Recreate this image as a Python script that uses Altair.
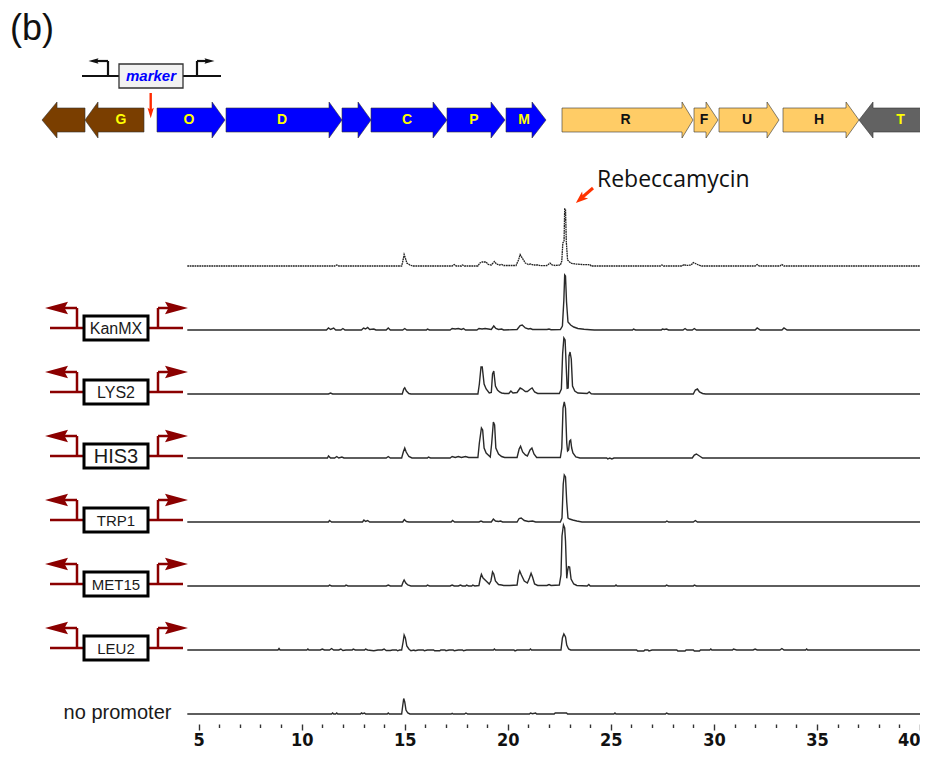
import altair as alt
import pandas as pd

# ---------------- chromatogram data: (retention time [min], signal) ----------------
trace_names = ["reference", "KanMX", "LYS2", "HIS3", "TRP1", "MET15", "LEU2", "no promoter"]

trace_ref = [(4.45,0),(11.6,0),(11.7,1),(11.8,0),
    (14.85,0),(14.92,6),(14.97,11.5),(15.03,8),(15.1,3),(15.25,1),(15.4,0),
    (17.3,0),(17.4,1.5),(17.5,0),(17.75,0),(17.8,1),(17.9,0),
    (18.55,0),(18.65,3),(18.75,4),(18.95,4),(19.05,1.5),(19.2,1),(19.35,4.5),(19.45,2),(19.6,1),(19.7,1.5),(19.8,0.5),
    (20.4,0.5),(20.52,6),(20.6,11.5),(20.7,8),(20.85,3),(21.0,1.5),(21.1,2),(21.25,1),(21.45,1),(21.6,0.3),
    (21.9,0.5),(22.05,3),(22.15,1),(22.3,0.5),(22.55,1),
    (22.62,5),(22.67,23),(22.73,25),(22.76,57),(22.8,57),(22.84,24),(22.9,6),(23.0,4),(23.1,2.5),(23.3,2),(23.6,1.5),(24.0,1.2),(24.05,0),
    (27.4,0),(27.48,1),(27.55,0),(28.45,0),(28.55,1.5),(28.65,0.5),(28.9,1),(29.0,3.5),(29.1,2.5),(29.25,1),(29.4,0),
    (32.0,0),(32.1,1.5),(32.2,0),(33.2,0),(33.3,1.5),(33.4,0),(40,0)]

trace_kanmx = [(4.45,0),(11.2,0),(11.3,2),(11.4,0.5),(11.55,2),(11.65,0),(11.9,0),(12.0,1.5),(12.1,0),
    (12.9,0),(13.0,2),(13.1,1),(13.2,2.5),(13.3,0.5),(13.5,1),(13.6,0),
    (14.1,0),(14.2,2),(14.3,0),(14.9,0),(15.0,1.5),(15.1,0),(16.05,0),(16.1,1),(16.2,0),
    (17.2,0),(17.3,1.5),(17.45,1),(17.6,1.5),(17.75,0.5),(17.85,1.5),(17.95,0),
    (18.5,0),(18.6,1.5),(18.75,1),(18.9,1.5),(19.05,1),(19.2,0.5),(19.32,4),(19.42,1.5),(19.55,0.5),(19.7,1),(19.8,0),
    (20.45,0.5),(20.6,4.5),(20.7,5),(20.85,2),(21.0,1),(21.1,1.5),(21.2,0.5),(21.9,0.5),(22.0,1),(22.1,0.3),(22.55,0.5),
    (22.65,4),(22.72,30),(22.76,55),(22.8,54),(22.85,28),(22.92,8),(23.05,5),(23.2,3),(23.4,1.5),(23.7,0.8),(24.0,0.3),(24.2,0),
    (26.05,0),(26.1,1),(26.2,0),(27.45,0),(27.5,1),(27.6,0.5),(27.7,1),(27.8,0),(28.5,0),(28.6,1.5),(28.7,0),
    (28.95,0),(29.05,1.5),(29.15,0),(32.0,0),(32.1,2),(32.25,0),(33.3,0),(33.4,2),(33.55,0),(40,0)]

trace_lys2 = [(4.45,0),(11.3,0),(11.4,1),(11.5,0),(14.88,0),(14.95,5),(15.0,6.3),(15.08,3),(15.2,0.5),(15.3,0),
    (18.55,0),(18.62,10),(18.7,27),(18.76,27),(18.85,10),(18.95,5),(19.1,1),(19.2,1.5),(19.26,20),(19.32,23),
    (19.4,8),(19.5,4),(19.6,2),(19.7,1),(19.85,0.5),
    (20.05,0.5),(20.15,3),(20.25,1),(20.45,1.5),(20.6,6),(20.7,5),(20.85,2.5),(20.95,2.5),(21.1,5),(21.18,6),(21.3,2),(21.45,0.5),(22.5,0.5),
    (22.6,5),(22.66,40),(22.72,56),(22.78,54),(22.85,20),(22.88,5.7),(22.93,6),(22.97,38),(23.02,42),(23.08,35),(23.14,8),
    (23.25,3),(23.4,1),(23.85,0.5),(23.95,2),(24.05,0.3),(24.2,0),
    (29.0,0),(29.1,4),(29.2,5),(29.3,2),(29.45,0.5),(29.6,0),(40,0)]

trace_his3 = [(4.45,0),(11.25,0),(11.3,2),(11.4,0),(11.6,0),(11.7,1.5),(11.8,0),(11.95,1),(12.05,0),(14.1,0),(14.2,1.5),(14.3,0),
    (14.85,0),(14.93,6),(15.0,10),(15.07,6),(15.2,1.5),(15.35,0),(16.1,0),(16.15,1),(16.25,0),
    (17.2,0),(17.3,1.5),(17.45,0.5),(17.6,1.5),(17.75,0.5),(17.95,1.5),(18.1,0.5),
    (18.55,0.5),(18.62,15),(18.72,30),(18.78,28),(18.85,10),(18.95,5),(19.05,3),(19.15,1),(19.22,15),(19.3,36),(19.36,33),
    (19.42,10),(19.55,4),(19.7,1.5),(19.85,0.5),
    (20.45,0.5),(20.55,9),(20.62,11.7),(20.72,6),(20.85,3),(20.95,2),(21.08,8),(21.17,10),(21.27,4),(21.4,0.5),(22.55,0.5),
    (22.62,10),(22.68,50),(22.74,56),(22.8,50),(22.86,15),(22.9,7),(22.95,8),(23.0,17),(23.05,18),(23.1,10),(23.16,5),(23.3,1),(23.5,0),
    (24.8,0),(24.85,-1),(24.95,0),(25.05,-1),(25.15,0),(28.95,0),(29.05,3),(29.15,4),(29.3,2),(29.45,0),(40,0)]

trace_trp1 = [(4.45,0),(11.3,0),(11.35,1.5),(11.45,0),(12.95,0),(13.02,2),(13.1,0.5),(13.2,1.5),(13.3,0),
    (14.9,0),(14.98,2.5),(15.08,0.5),(15.2,0),
    (17.25,0),(17.32,1.5),(17.42,0),(18.6,0),(18.7,1),(18.8,0),(19.2,0),(19.3,3),(19.4,1),(19.55,0.5),(19.65,1),(19.75,0),
    (20.45,0),(20.55,3.5),(20.65,4),(20.8,1.5),(21.0,0.5),(21.2,1),(21.35,0),(22.55,0),
    (22.63,4),(22.69,38),(22.74,47),(22.8,45),(22.86,20),(22.92,4),(23.0,3),(23.15,2),(23.35,1),(23.6,0),
    (27.65,0),(27.72,1),(27.8,0),(29.0,0),(29.1,1.5),(29.2,0),(40,0)]

trace_met15 = [(4.45,0),(11.3,0),(11.35,1),(11.45,0),(12.1,0),(12.15,1),(12.25,0),(14.1,0),(14.2,1),(14.3,0),
    (14.85,0),(14.92,4),(14.97,6),(15.05,3),(15.15,1),(15.3,0),(16.05,0),(16.1,1),(16.2,0),
    (17.2,0),(17.3,1),(17.4,0),(17.6,0),(17.7,1),(17.8,0),(17.95,0),(18.0,1),(18.1,0),(18.25,0),(18.3,1),(18.4,0),
    (18.6,0.5),(18.67,8),(18.72,11.7),(18.8,8),(18.95,5),(19.1,2),(19.18,5),(19.26,14),(19.32,12),(19.4,5),(19.55,1.5),
    (19.7,1),(19.8,0.5),(20.1,0.5),
    (20.45,1),(20.52,11),(20.58,15),(20.66,11),(20.8,5),(20.95,3),(21.05,8),(21.13,12.7),(21.2,9),(21.3,2),(21.45,0.5),
    (21.9,0.5),(22.0,1.5),(22.1,0.5),(22.5,1),(22.58,11),(22.63,50),(22.7,61),(22.76,58),(22.8,45),(22.86,7.7),
    (22.9,15),(22.94,19.3),(23.0,19),(23.07,7),(23.2,2),(23.35,0.5),
    (23.85,0),(23.93,1.5),(24.0,0),(25.2,0),(25.25,1),(25.3,0),(27.65,0),(27.7,1),(27.8,0),(29.0,0),(29.05,1),(29.15,0),(40,0)]

trace_leu2 = [(4.45,0),(8.85,0),(8.9,1.5),(8.95,0),(10.25,0),(10.3,1),(10.35,0),(10.9,0),(11.0,1),(11.1,0),
    (11.35,0),(11.45,1.5),(11.55,0),(11.8,0),(11.9,1),(12.0,-0.5),(12.15,0),(12.45,0),(12.5,1),(12.6,0),
    (13.05,0),(13.1,1),(13.2,0),(13.5,-0.8),(13.7,0),(13.9,0),(14.0,1),(14.1,-0.5),(14.3,-0.5),(14.4,0),
    (14.6,0),(14.65,-0.8),(14.75,0),
    (14.85,0),(14.92,8),(14.97,15),(15.03,12),(15.1,4),(15.2,1),(15.3,-0.8),(15.45,0),(15.5,-0.8),(15.65,0),
    (15.9,0),(15.95,-0.8),(16.1,0),(16.4,0),(16.45,-0.8),(16.7,-0.8),(16.75,0),(16.95,0),(17.0,-0.8),(17.15,0),
    (17.35,0),(17.4,-0.8),(17.6,0),(17.8,0),(17.85,-0.8),(18.0,0),
    (19.3,0),(19.35,1),(19.4,0),(20.3,0),(20.35,-1),(20.45,0),(21.05,0),(21.1,1),(21.15,0),
    (22.58,0),(22.65,12),(22.72,16),(22.8,13),(22.86,5),(22.95,1),(23.05,0),
    (26.25,0),(26.3,-1),(26.6,-1),(26.65,0),(26.8,0),(26.85,-1),(27.0,0),(28.2,0),(28.25,-1),(28.6,-1),(28.65,0),
    (29.0,0),(29.05,-1),(29.3,-1),(29.35,0),
    (29.8,0),(29.85,1),(29.9,0),(30.9,0),(30.95,1),(31.1,0),(31.9,0),(32.0,1),(32.1,0),(33.2,0),(33.3,1.5),(33.4,0),
    (34.45,0),(34.5,1),(34.55,0),(40,0)]

trace_none = [(4.45,0),(11.45,0),(11.5,1),(11.55,0),(11.65,0),(11.7,1),(11.75,0),(12.85,0),(12.9,1),(12.95,0.3),
    (13.05,1),(13.1,0),(14.15,0),(14.2,1),(14.25,0),
    (14.85,0),(14.9,8),(14.95,15.5),(15.0,12),(15.06,4),(15.15,1),(15.25,0),(17.25,0),(17.3,0.7),(17.35,0),
    (17.9,0),(17.97,1),(18.05,0),
    (21.05,0),(21.1,1),(21.2,0.3),(21.35,1),(21.4,0),(22.25,0),(22.3,1),(22.85,1),(22.9,0),(25.15,0),(25.2,1),
    (25.25,0),(27.65,0),(27.7,1),(27.8,0),(40,0)]

traces = [trace_ref, trace_kanmx, trace_lys2, trace_his3, trace_trp1, trace_met15, trace_leu2, trace_none]

tick_values = list(range(5, 41))

# ---------------- gene cluster (schematic positions along the cluster) ----------------
gene_labels = ["", "G", "O", "D", "", "C", "P", "M", "R", "F", "U", "H", "T"]
gene_tail = [85, 144, 157, 226, 342, 371, 447, 506, 562, 694, 719, 783, 928]
gene_head = [57, 98, 212, 329, 358, 433, 491, 532, 682, 706, 767, 846, 873]
gene_tip = [42, 85, 225, 342, 371, 447, 505, 546, 693, 718, 779, 859, 859]
gene_fill = ["#7A3E00", "#7A3E00", "#0000FF", "#0000FF", "#0000FF", "#0000FF", "#0000FF", "#0000FF",
             "#FFCC66", "#FFCC66", "#FFCC66", "#FFCC66", "#626262"]
gene_text = ["#FFFF00"] * 8 + ["#111111"] * 4 + ["#FFFF00"]

promoter_labels = ["KanMX", "LYS2", "HIS3", "TRP1", "MET15", "LEU2"]
promoter_label_size = [16, 16, 20, 15, 15, 15]

# ---------------- layout ----------------
W, H = 912, 714
X_DOM = [-4.25, 40.0]
SHIFT = 4
EPS = 0.002


def fx(px):
    return X_DOM[0] + (px - 8) * (X_DOM[1] - X_DOM[0]) / W


def fy(py):
    return (H + 8 + SHIFT) - py


BASE0, STEP = 270, 64
DARKRED = "#8B0000"
SANS = "Liberation Sans, Arial, Helvetica, sans-serif"

xaxis = alt.Axis(
    values=tick_values,
    labelExpr="datum.value % 5 === 0 ? datum.label : ''",
    tickSize={"condition": {"test": "datum.value % 5 === 0", "value": 6}, "value": 3.5},
    tickWidth=1.4, tickColor="#333333", domain=False, grid=False,
    labelFont="Liberation Sans Narrow, DejaVu Sans Condensed, Arial Narrow, sans-serif",
    labelFontSize=18, labelFontWeight="bold", labelColor="#111111",
    labelPadding=1, offset=2, title="", labelOverlap=False, labelAngle=0, labelFlush=True,
)
X = alt.X("x:Q", scale=alt.Scale(domain=X_DOM, nice=False, zero=False), axis=xaxis)
Y = alt.Y("y:Q", scale=alt.Scale(domain=[0, H], nice=False, zero=False), axis=None)
X2 = alt.X2("x2:Q")
Y2 = alt.Y2("y2:Q")

# ---------------- chromatogram traces ----------------
rows = []
for i, (name, pts) in enumerate(zip(trace_names, traces)):
    base = fy(BASE0 + STEP * i)
    for k, (t, h) in enumerate(pts):
        rows.append({"x": t, "y": base + h, "series": name, "idx": k})
tr = pd.DataFrame(rows)

lines_main = alt.Chart(tr[tr.series != "reference"]).mark_line(
    color="#2a2a2a", strokeWidth=1.4, interpolate="linear"
).encode(x=X, y=Y, detail="series:N", order="idx:Q")
lines_top = alt.Chart(tr[tr.series == "reference"]).mark_line(
    color="#222222", strokeWidth=1.3, strokeDash=[1.8, 0.6], interpolate="linear"
).encode(x=X, y=Y, detail="series:N", order="idx:Q")

# ---------------- gene arrows ----------------
cv = fy(124)
BH, HH = 12, 18
poly = []
glab = []
for g in range(len(gene_labels)):
    tail, head, tip = gene_tail[g], gene_head[g], gene_tip[g]
    if tip > tail:
        pts = [(fx(tail), cv - BH, cv + BH), (fx(head), cv - BH, cv + BH),
               (fx(head) + EPS, cv - HH, cv + HH), (fx(tip), cv, cv)]
        lx = (tail + tip) / 2 - 2
    else:
        pts = [(fx(tip), cv, cv), (fx(head), cv - HH, cv + HH),
               (fx(head) + EPS, cv - BH, cv + BH), (fx(tail), cv - BH, cv + BH)]
        lx = (tail + head) / 2
    for k, (xx, lo, hi) in enumerate(pts):
        poly.append({"x": xx, "y": lo, "y2": hi, "gene": f"g{g:02d}", "fill": gene_fill[g]})
    if gene_labels[g]:
        glab.append({"x": fx(lx), "y": cv, "label": gene_labels[g], "tc": gene_text[g]})
poly = pd.DataFrame(poly)
glab = pd.DataFrame(glab)

genes = alt.Chart(poly).mark_area(
    orient="vertical", stroke="#333333", strokeWidth=0.6, opacity=1, interpolate="linear"
).encode(x=X, y=Y, y2=Y2, color=alt.Color("fill:N", scale=None), detail="gene:N")
gene_txt = alt.Chart(glab).mark_text(
    font=SANS, fontSize=14, fontWeight="bold", baseline="middle", align="center"
).encode(x=X, y=Y, text="label:N", color=alt.Color("tc:N", scale=None))

# ---------------- marker insertion schematic ----------------
blk = pd.DataFrame([
    {"x": fx(82), "x2": fx(221), "y": fy(80), "y2": fy(80)},
    {"x": fx(108), "x2": fx(108), "y": fy(80), "y2": fy(65)},
    {"x": fx(108), "x2": fx(97), "y": fy(65), "y2": fy(65)},
    {"x": fx(197), "x2": fx(197), "y": fy(80), "y2": fy(65)},
    {"x": fx(197), "x2": fx(206), "y": fy(65), "y2": fy(65)},
])
blk_rules = alt.Chart(blk).mark_rule(color="#111111", strokeWidth=2.2).encode(x=X, x2=X2, y=Y, y2=Y2)

L_HEAD = "M -1 0 L 1 -0.55 L 0.7 0 L 1 0.55 Z"
R_HEAD = "M 1 0 L -1 -0.55 L -0.7 0 L -1 0.55 Z"
D_HEAD = "M 0 1 L -0.6 -1 L 0 -0.6 L 0.6 -1 Z"
U_HEAD = "M 0 -1 L 0.75 1 L 0 0.5 L -0.75 1 Z"

blk_l = alt.Chart(pd.DataFrame([{"x": fx(93.5), "y": fy(65)}])).mark_point(
    shape=L_HEAD, filled=True, color="#111111", size=100, opacity=1, strokeWidth=0
).encode(x=X, y=Y)
blk_r = alt.Chart(pd.DataFrame([{"x": fx(209.5), "y": fy(65)}])).mark_point(
    shape=R_HEAD, filled=True, color="#111111", size=100, opacity=1, strokeWidth=0
).encode(x=X, y=Y)

mbox = alt.Chart(pd.DataFrame([{"x": fx(119), "x2": fx(183), "y": fy(92), "y2": fy(68)}])).mark_rect(
    fill="#F2F2F2", stroke="#333333", strokeWidth=1.3
).encode(x=X, x2=X2, y=Y, y2=Y2)
mtxt = alt.Chart(pd.DataFrame([{"x": fx(151), "y": fy(80), "label": "marker"}])).mark_text(
    font=SANS, fontSize=15, fontWeight="bold", fontStyle="italic", color="#0000FF", baseline="middle"
).encode(x=X, y=Y, text="label:N")

red_rule = alt.Chart(pd.DataFrame([{"x": fx(150.7), "x2": fx(150.7), "y": fy(97), "y2": fy(114)}])).mark_rule(
    color="#FF2A00", strokeWidth=2.4
).encode(x=X, x2=X2, y=Y, y2=Y2)
red_head = alt.Chart(pd.DataFrame([{"x": fx(150.7), "y": fy(117)}])).mark_point(
    shape=D_HEAD, filled=True, color="#FF2A00", size=110, opacity=1, strokeWidth=0
).encode(x=X, y=Y)

# ---------------- promoter schematics left of the traces ----------------
segs, lheads, rheads, boxes, btxt = [], [], [], [], []
for j, lab in enumerate(promoter_labels):
    i = j + 1
    cy = BASE0 + STEP * i - 2
    for (a, b, c, d) in [(50, cy, 183, cy), (77, cy, 77, cy - 20), (77, cy - 20, 63, cy - 20),
                         (158, cy, 158, cy - 20), (158, cy - 20, 170, cy - 20)]:
        segs.append({"x": fx(a), "y": fy(b), "x2": fx(c), "y2": fy(d)})
    lheads.append({"x": fx(56.5), "y": fy(cy - 20)})
    rheads.append({"x": fx(176.5), "y": fy(cy - 20)})
    boxes.append({"x": fx(84), "x2": fx(148), "y": fy(cy + 12), "y2": fy(cy - 12)})
    btxt.append({"x": fx(116), "y": fy(cy + 0.5), "label": lab, "fs": promoter_label_size[j]})

p_rules = alt.Chart(pd.DataFrame(segs)).mark_rule(color=DARKRED, strokeWidth=2.5).encode(x=X, x2=X2, y=Y, y2=Y2)
p_l = alt.Chart(pd.DataFrame(lheads)).mark_point(
    shape=L_HEAD, filled=True, color=DARKRED, size=529, opacity=1, strokeWidth=0
).encode(x=X, y=Y)
p_r = alt.Chart(pd.DataFrame(rheads)).mark_point(
    shape=R_HEAD, filled=True, color=DARKRED, size=529, opacity=1, strokeWidth=0
).encode(x=X, y=Y)
p_box = alt.Chart(pd.DataFrame(boxes)).mark_rect(
    fill="white", stroke="#000000", strokeWidth=3
).encode(x=X, x2=X2, y=Y, y2=Y2)
p_txt = alt.Chart(pd.DataFrame(btxt)).mark_text(
    font=SANS, color="#1a1a1a", baseline="middle", align="center"
).encode(x=X, y=Y, text="label:N", size=alt.Size("fs:Q", scale=None))

nop = alt.Chart(pd.DataFrame([{"x": fx(117.5), "y": fy(717), "label": "no promoter"}])).mark_text(
    font=SANS, fontSize=20, color="#1a1a1a", baseline="middle", align="center"
).encode(x=X, y=Y, text="label:N")

# ---------------- annotation ----------------
reb_txt = alt.Chart(pd.DataFrame([{"x": fx(597), "y": fy(184), "label": "Rebeccamycin"}])).mark_text(
    font="Open Sans, Noto Sans, sans-serif", fontSize=23, color="#111111", baseline="middle", align="left"
).encode(x=X, y=Y, text="label:N")
reb_rule = alt.Chart(pd.DataFrame([{"x": fx(593), "x2": fx(582), "y": fy(192), "y2": fy(201.5)}])).mark_rule(
    color="#FF3300", strokeWidth=3
).encode(x=X, x2=X2, y=Y, y2=Y2)
reb_head = alt.Chart(pd.DataFrame([{"x": fx(580.5), "y": fy(203)}])).mark_point(
    shape=U_HEAD, filled=True, color="#FF3300", size=150, angle=229, opacity=1, strokeWidth=0
).encode(x=X, y=Y)

panel = alt.Chart(pd.DataFrame([{"x": fx(10), "y": fy(44), "label": "(b)"}])).mark_text(
    font=SANS, fontSize=36, color="#111111", baseline="alphabetic", align="left"
).encode(x=X, y=Y, text="label:N")

chart = alt.layer(
    lines_main, lines_top, genes, gene_txt,
    blk_rules, blk_l, blk_r, mbox, mtxt, red_rule, red_head,
    p_rules, p_l, p_r, p_box, p_txt, nop,
    reb_rule, reb_head, reb_txt, panel,
).properties(
    width=W, height=H,
    padding={"left": 0, "top": 0, "right": 0, "bottom": 26},
    autosize=alt.AutoSizeParams(type="none"),
    background="white",
).configure_view(strokeWidth=0)

chart.save("out.html", embed_options={"renderer": "svg", "actions": False})
